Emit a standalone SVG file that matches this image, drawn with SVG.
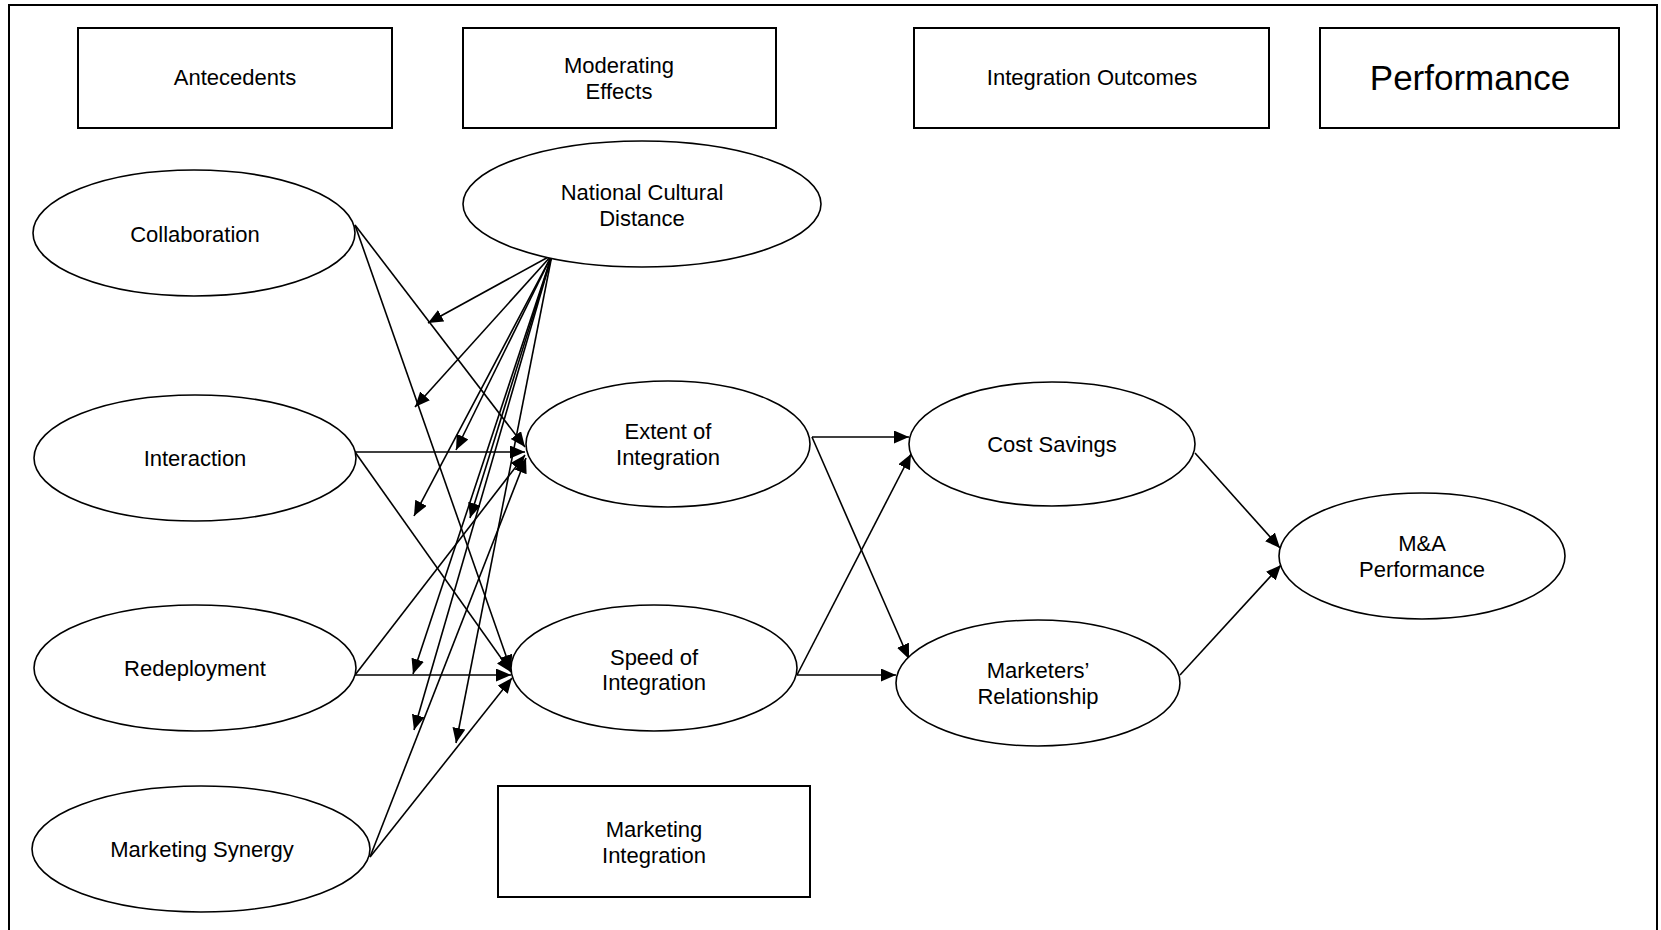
<svg xmlns="http://www.w3.org/2000/svg" width="1661" height="930" viewBox="0 0 1661 930">
  <style>
    .frame { fill: none; stroke: #000; stroke-width: 2; }
    .box { fill: #fff; stroke: #000; stroke-width: 2; }
    .oval { fill: #fff; stroke: #000; stroke-width: 1.6; }
    .lbl { font-family: "Liberation Sans", Arial, sans-serif; font-size: 22px; fill: #000; text-anchor: middle; }
    .big { font-size: 35px; }
    .edge { stroke: #000; stroke-width: 1.6; fill: none; marker-end: url(#arrow); }
  </style>
  <defs>
    <marker id="arrow" markerUnits="userSpaceOnUse" markerWidth="16" markerHeight="14" refX="15" refY="6.5" orient="auto">
      <path d="M0,0 L15,6.5 L0,13 z" fill="#000"/>
    </marker>
  </defs>

  <rect width="1661" height="930" fill="#fff"/>
  <!-- outer frame, open at the bottom -->
  <path class="frame" d="M9,935 V5 H1657 V935"/>

  <!-- column headings -->
  <g id="antecedents-heading">
    <rect class="box" x="78" y="28" width="314" height="100"/>
    <text class="lbl" x="235" y="85">Antecedents</text>
  </g>
  <g id="moderating-heading">
    <rect class="box" x="463" y="28" width="313" height="100"/>
    <text class="lbl" x="619" y="73">Moderating</text>
    <text class="lbl" x="619" y="99">Effects</text>
  </g>
  <g id="outcomes-heading">
    <rect class="box" x="914" y="28" width="355" height="100"/>
    <text class="lbl" x="1092" y="85">Integration Outcomes</text>
  </g>
  <g id="performance-heading">
    <rect class="box" x="1320" y="28" width="299" height="100"/>
    <text class="lbl big" x="1470" y="90">Performance</text>
  </g>

  <!-- connectors -->
  <g id="connectors">
    <!-- antecedents to integration -->
    <line class="edge" x1="355" y1="225" x2="525" y2="447"/>
    <line class="edge" x1="355" y1="225" x2="511" y2="670"/>
    <line class="edge" x1="355" y1="452" x2="525" y2="452"/>
    <line class="edge" x1="355" y1="452" x2="511" y2="672"/>
    <line class="edge" x1="355" y1="675" x2="525" y2="455"/>
    <line class="edge" x1="355" y1="675" x2="511" y2="675"/>
    <line class="edge" x1="370" y1="857" x2="526" y2="458"/>
    <line class="edge" x1="370" y1="857" x2="512" y2="678"/>
    <!-- national cultural distance moderating each path -->
    <line class="edge" x1="552" y1="255" x2="428" y2="323"/>
    <line class="edge" x1="552" y1="255" x2="415" y2="407"/>
    <line class="edge" x1="552" y1="255" x2="456" y2="450"/>
    <line class="edge" x1="552" y1="255" x2="414" y2="516"/>
    <line class="edge" x1="552" y1="255" x2="470" y2="518"/>
    <line class="edge" x1="552" y1="255" x2="413" y2="674"/>
    <line class="edge" x1="552" y1="255" x2="414" y2="730"/>
    <line class="edge" x1="552" y1="255" x2="456" y2="743"/>
    <!-- integration to outcomes -->
    <line class="edge" x1="812" y1="437" x2="909" y2="437"/>
    <line class="edge" x1="812" y1="437" x2="909" y2="659"/>
    <line class="edge" x1="797" y1="675" x2="911" y2="454"/>
    <line class="edge" x1="797" y1="675" x2="896" y2="675"/>
    <!-- outcomes to performance -->
    <line class="edge" x1="1195" y1="453" x2="1280" y2="548"/>
    <line class="edge" x1="1180" y1="675" x2="1281" y2="565"/>
  </g>

  <!-- antecedents -->
  <g id="collaboration">
    <ellipse class="oval" cx="194" cy="233" rx="161" ry="63"/>
    <text class="lbl" x="195" y="242">Collaboration</text>
  </g>
  <g id="interaction">
    <ellipse class="oval" cx="195" cy="458" rx="161" ry="63"/>
    <text class="lbl" x="195" y="466">Interaction</text>
  </g>
  <g id="redeployment">
    <ellipse class="oval" cx="195" cy="668" rx="161" ry="63"/>
    <text class="lbl" x="195" y="676">Redeployment</text>
  </g>
  <g id="marketing-synergy">
    <ellipse class="oval" cx="201" cy="849" rx="169" ry="63"/>
    <text class="lbl" x="202" y="857">Marketing Synergy</text>
  </g>

  <!-- moderator -->
  <g id="national-cultural-distance">
    <ellipse class="oval" cx="642" cy="204" rx="179" ry="63"/>
    <text class="lbl" x="642" y="200">National Cultural</text>
    <text class="lbl" x="642" y="226">Distance</text>
  </g>

  <!-- marketing integration -->
  <g id="extent-of-integration">
    <ellipse class="oval" cx="668" cy="444" rx="142" ry="63"/>
    <text class="lbl" x="668" y="439">Extent of</text>
    <text class="lbl" x="668" y="465">Integration</text>
  </g>
  <g id="speed-of-integration">
    <ellipse class="oval" cx="654" cy="668" rx="143" ry="63"/>
    <text class="lbl" x="654" y="665">Speed of</text>
    <text class="lbl" x="654" y="690">Integration</text>
  </g>
  <g id="marketing-integration">
    <rect class="box" x="498" y="786" width="312" height="111"/>
    <text class="lbl" x="654" y="837">Marketing</text>
    <text class="lbl" x="654" y="863">Integration</text>
  </g>

  <!-- outcomes -->
  <g id="cost-savings">
    <ellipse class="oval" cx="1052" cy="444" rx="143" ry="62"/>
    <text class="lbl" x="1052" y="452">Cost Savings</text>
  </g>
  <g id="marketers-relationship">
    <ellipse class="oval" cx="1038" cy="683" rx="142" ry="63"/>
    <text class="lbl" x="1038" y="678">Marketers’</text>
    <text class="lbl" x="1038" y="704">Relationship</text>
  </g>

  <!-- performance -->
  <g id="ma-performance">
    <ellipse class="oval" cx="1422" cy="556" rx="143" ry="63"/>
    <text class="lbl" x="1422" y="551">M&amp;A</text>
    <text class="lbl" x="1422" y="577">Performance</text>
  </g>
</svg>
